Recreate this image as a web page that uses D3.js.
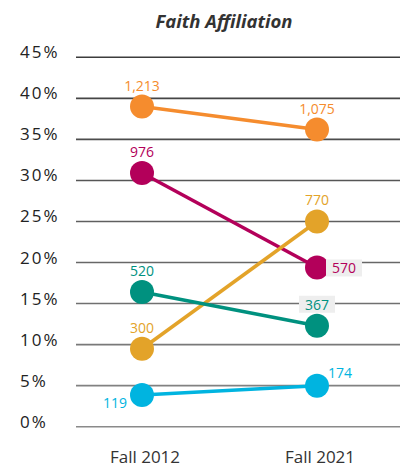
<!DOCTYPE html>
<html>
<head>
<meta charset="utf-8">
<script src="https://cdn.jsdelivr.net/npm/d3@7"></script>
<style>
  body { margin: 0; background: #fff; }
  svg { display: block; }
</style>
</head>
<body>
<script>
// Data
const terms = ['Fall 2012', 'Fall 2021']
const yTicks = [0, 5, 10, 15, 20, 25, 30, 35, 40, 45]

const seriesNames = ['orange', 'magenta', 'gold', 'teal', 'cyan']
const seriesColors = ['#F58C2E', '#B3005A', '#E3A329', '#00917F', '#00B4E0']
const seriesPct = [[39.0, 36.2], [30.9, 19.4], [9.5, 25.0], [16.4, 12.3], [3.85, 5.0]]
const seriesCounts = [['1,213', '1,075'], ['976', '570'], ['300', '770'], ['520', '367'], ['119', '174']]

const width = 404
const height = 467
const margins = { top: 57, bottom: 40, left: 76, right: 4 }

const svg = d3.select('body').append('svg')
  .attr('width', width)
  .attr('height', height)
  .attr('viewBox', [0, 0, width, height].join(' '))

const xScale = d3.scalePoint()
  .domain(terms)
  .range([142, 317])

const yScale = d3.scaleLinear()
  .domain([0, 45])
  .range([426.7, 57.3])

const gridColor = d3.scaleLinear().domain([0, 45]).range(['#8a8a8a', '#3c3c3c'])

// Gridlines
svg.append('g')
  .selectAll('line')
  .data(yTicks)
  .enter().append('line')
  .attr('x1', margins.left)
  .attr('x2', width - margins.right)
  .attr('y1', d => yScale(d))
  .attr('y2', d => yScale(d))
  .attr('stroke', d => gridColor(d))
  .attr('stroke-width', 1.6)

// Y labels
svg.append('g')
  .selectAll('text')
  .data(yTicks)
  .enter().append('text')
  .attr('x', 20)
  .attr('y', d => yScale(d) + 1)
  .attr('fill', '#222')
  .style('font-family', 'Open Sans, sans-serif')
  .style('font-size', '17px')
  .style('letter-spacing', '2px')
  .text(d => d + '%')

// X labels
svg.append('g')
  .selectAll('text')
  .data(terms)
  .enter().append('text')
  .attr('x', d => xScale(d) + 3)
  .attr('y', 463)
  .attr('fill', '#333')
  .style('font-family', 'Open Sans, sans-serif')
  .style('font-size', '17px')
  .style('text-anchor', 'middle')
  .text(d => d)

// Title
svg.append('text')
  .attr('x', 224)
  .attr('y', 28)
  .attr('fill', '#333')
  .style('font-family', 'Open Sans, sans-serif')
  .style('font-size', '18.5px')
  .style('font-weight', 'bold')
  .style('font-style', 'italic')
  .style('text-anchor', 'middle')
  .text('Faith Affiliation')

// Lines and points
const line = d3.line()
  .x((d, i) => xScale(terms[i]))
  .y(d => yScale(d))

seriesPct.forEach((values, s) => {
  svg.append('path')
    .datum(values)
    .attr('d', line)
    .attr('fill', 'none')
    .attr('stroke', seriesColors[s])
    .attr('stroke-width', 3.5)
})

seriesPct.forEach((values, s) => {
  svg.append('g')
    .selectAll('circle')
    .data(values)
    .enter().append('circle')
    .attr('cx', (d, i) => xScale(terms[i]))
    .attr('cy', d => yScale(d))
    .attr('r', 12)
    .attr('fill', seriesColors[s])
})

// Count labels: default above the point; a few sit elsewhere
const labelPlacement = {
  'magenta-1': { dx: 15, dy: 6, anchor: 'start', box: true },
  'teal-1': { dx: 0, dy: -16, anchor: 'middle', box: true },
  'cyan-0': { dx: -15, dy: 13, anchor: 'end', box: false },
  'cyan-1': { dx: 11, dy: -8, anchor: 'start', box: false }
}

seriesCounts.forEach((counts, s) => {
  counts.forEach((label, i) => {
    const place = labelPlacement[seriesNames[s] + '-' + i] || { dx: 0, dy: -16, anchor: 'middle', box: false }
    const x = xScale(terms[i]) + place.dx
    const y = yScale(seriesPct[s][i]) + place.dy
    const g = svg.append('g')
    const text = g.append('text')
      .attr('x', x)
      .attr('y', y)
      .attr('fill', seriesColors[s])
      .style('font-family', 'Open Sans, sans-serif')
      .style('font-size', '14px')
      .style('text-anchor', place.anchor)
      .text(label)
    if (place.box) {
      const bb = text.node().getBBox()
      g.insert('rect', 'text')
        .attr('x', bb.x - 6)
        .attr('y', bb.y + 1)
        .attr('width', bb.width + 12)
        .attr('height', bb.height - 2)
        .attr('fill', '#eeeeee')
    }
  })
})
</script>
</body>
</html>
